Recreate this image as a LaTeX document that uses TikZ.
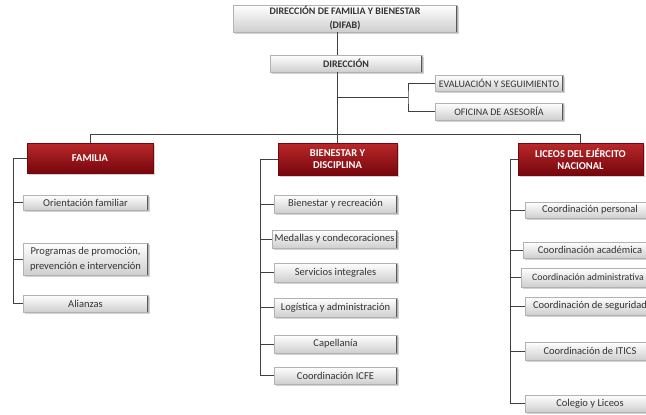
\documentclass[tikz,border=0pt]{standalone}
\usepackage{fontspec}
\setmainfont{Carlito}
\usetikzlibrary{shadows}
\definecolor{redtop}{RGB}{185,40,42}
\definecolor{redbot}{RGB}{118,6,12}
\tikzset{
  gbox/.style={draw=gray!60, top color=white, bottom color=gray!38,
    drop shadow={opacity=0.35, shadow xshift=1.5pt, shadow yshift=-2pt},
    inner sep=0pt, align=center, text=black!80,
    font=\fontsize{10.5}{15}\selectfont,
    path picture={\draw[line width=2.5pt, black!65] (path picture bounding box.north east) -- (path picture bounding box.south east);}},
  capbox/.style={gbox, font=\fontsize{10}{13}\selectfont},
  rbox/.style={draw=redbot, top color=redtop, bottom color=redbot,
    drop shadow={opacity=0.35, shadow xshift=1.5pt, shadow yshift=-2pt},
    inner sep=0pt, align=center, text=white,
    font=\bfseries\fontsize{10.5}{12.5}\selectfont},
  conn/.style={draw=black!75, line width=0.8pt}
}
\begin{document}
\begin{tikzpicture}[x=1pt, y=-1pt]
\useasboundingbox (0,0) rectangle (646,415);
\fill[white] (0,0) rectangle (646,415);
\clip (0,0) rectangle (646,415);
% top
\node[gbox, font=\bfseries\fontsize{10}{14}\selectfont, minimum width=224pt, minimum height=27pt] (top) at (345,18.5) {DIRECCIÓN DE FAMILIA Y BIENESTAR\\(DIFAB)};
\node[gbox, font=\bfseries\fontsize{10}{12}\selectfont, minimum width=152pt, minimum height=17pt] (dir) at (346,63.5) {DIRECCIÓN};
\node[capbox, minimum width=128pt, minimum height=16pt] (eval) at (499,83) {EVALUACIÓN Y SEGUIMIENTO};
\node[capbox, minimum width=128pt, minimum height=17pt] (ofi) at (499,111.5) {OFICINA DE ASESORÍA};
% second level
\node[rbox, minimum width=126pt, minimum height=30pt] (fam) at (90,158) {FAMILIA};
\node[rbox, minimum width=119pt, minimum height=32pt] (bien) at (337.5,159) {BIENESTAR Y\\DISCIPLINA};
\node[rbox, minimum width=125pt, minimum height=32pt] (lic) at (580.5,159) {LICEOS DEL EJÉRCITO\\NACIONAL};
% familia
\node[gbox, minimum width=125pt, minimum height=15pt] (orient) at (85.5,202.5) {Orientación familiar};
\node[gbox, minimum width=125pt, minimum height=32pt] (prog) at (85.5,259) {Programas de promoción,\\prevención e intervención};
\node[gbox, minimum width=125pt, minimum height=17pt] (alz) at (85.5,303.5) {Alianzas};
% bienestar
\node[gbox, minimum width=123pt, minimum height=18pt] (brec) at (335.5,204) {Bienestar y recreación};
\node[gbox, minimum width=125pt, minimum height=18pt] (med) at (334.5,239) {Medallas y condecoraciones};
\node[gbox, minimum width=123pt, minimum height=19pt] (serv) at (335.5,272.5) {Servicios integrales};
\node[gbox, minimum width=123pt, minimum height=19pt] (logi) at (335.5,307.5) {Logística y administración};
\node[gbox, minimum width=123pt, minimum height=18pt] (cap) at (335.5,344) {Capellanía};
\node[gbox, minimum width=123pt, minimum height=17pt] (icfe) at (335.5,375.5) {Coordinación ICFE};
% liceos
\node[gbox, minimum width=130pt, minimum height=16pt] (pers) at (590,210) {Coordinación personal};
\node[gbox, minimum width=134pt, minimum height=16pt] (acad) at (590,250) {Coordinación académica};
\node[gbox, font=\fontsize{9.8}{13}\selectfont, minimum width=134pt, minimum height=19pt] (adm) at (588,277.5) {Coordinación administrativa};
\node[gbox, minimum width=130pt, minimum height=18pt] (seg) at (590,306) {Coordinación de seguridad};
\node[gbox, minimum width=130pt, minimum height=18pt] (itics) at (590,351) {Coordinación de ITICS};
\node[gbox, minimum width=130pt, minimum height=17pt] (col) at (590,403.5) {Colegio y Liceos};
% connectors
\coordinate (sp) at (337,0);
\coordinate (bus) at (0,134);
\coordinate (br1) at (408,97);
\draw[conn] (top.south -| sp) -- (dir.north -| sp);
\draw[conn] (dir.south -| sp) -- (sp |- bus);
\draw[conn] (sp |- br1) -- (br1);
\draw[conn] (eval.west) -| (br1) |- (ofi.west);
\draw[conn] (fam.north) -- (fam.north |- bus) -- (lic.north |- bus) -- (lic.north);
\draw[conn] (bien.north) -- (bien.north |- bus);
% familia bus
\coordinate (fl) at (13,0);
\draw[conn] (fam.west) -- (fam.west -| fl) |- (alz.west);
\draw[conn] (orient.west -| fl) -- (orient.west);
\draw[conn] (prog.west -| fl) -- (prog.west);
% bienestar bus
\coordinate (bl) at (260,0);
\draw[conn] (bien.west) -- (bien.west -| bl) |- (icfe.west);
\foreach \n in {brec,med,serv,logi,cap}{\draw[conn] (\n.west -| bl) -- (\n.west);}
% liceos bus
\coordinate (ll) at (510,0);
\draw[conn] (lic.west) -- (lic.west -| ll) |- (col.west);
\foreach \n in {pers,acad,adm,seg,itics}{\draw[conn] (\n.west -| ll) -- (\n.west);}
\end{tikzpicture}
\end{document}
